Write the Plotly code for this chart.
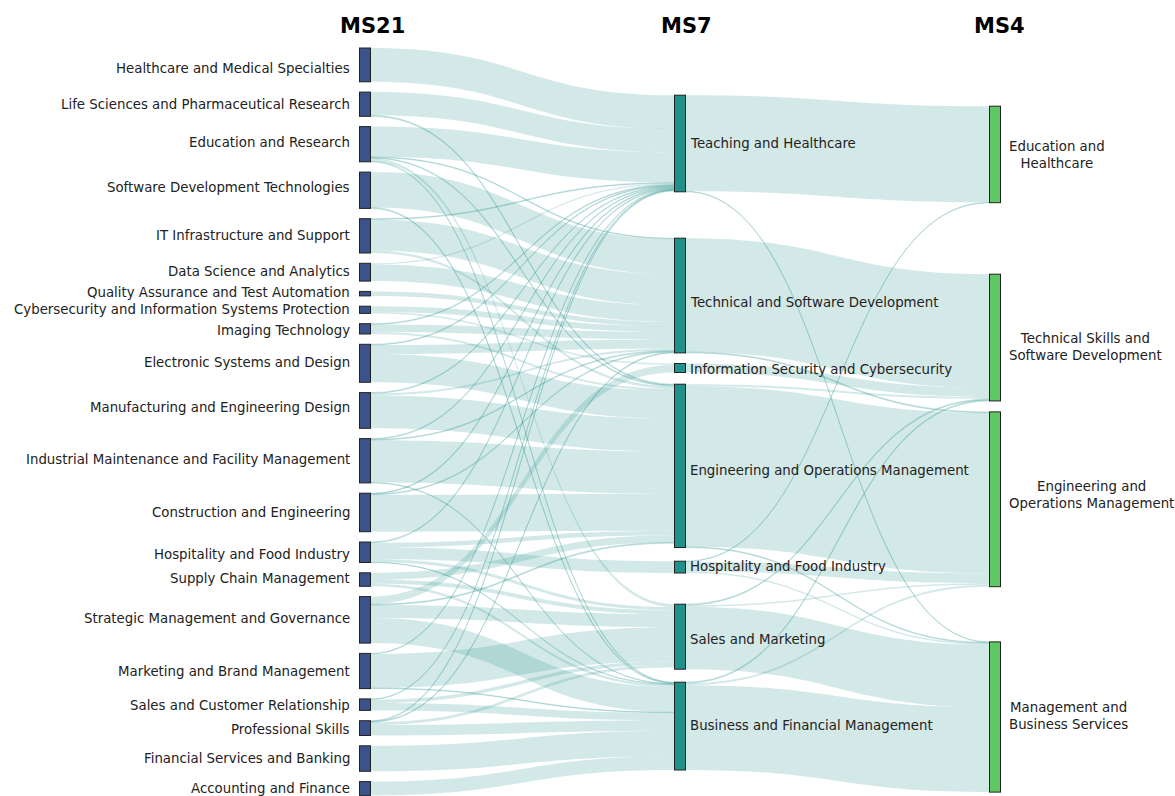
import plotly.graph_objects as go

W, H = 1175, 796

# ---------------- data ----------------
ms21 = [
    "Healthcare and Medical Specialties",
    "Life Sciences and Pharmaceutical Research",
    "Education and Research",
    "Software Development Technologies",
    "IT Infrastructure and Support",
    "Data Science and Analytics",
    "Quality Assurance and Test Automation",
    "Cybersecurity and Information Systems Protection",
    "Imaging Technology",
    "Electronic Systems and Design",
    "Manufacturing and Engineering Design",
    "Industrial Maintenance and Facility Management",
    "Construction and Engineering",
    "Hospitality and Food Industry",
    "Supply Chain Management",
    "Strategic Management and Governance",
    "Marketing and Brand Management",
    "Sales and Customer Relationship",
    "Professional Skills",
    "Financial Services and Banking",
    "Accounting and Finance",
]
ms7 = [
    "Teaching and Healthcare",
    "Technical and Software Development",
    "Information Security and Cybersecurity",
    "Engineering and Operations Management",
    "Hospitality and Food Industry",
    "Sales and Marketing",
    "Business and Financial Management",
]
ms4 = [
    "Education and<br>Healthcare",
    "Technical Skills and<br>Software Development",
    "Engineering and<br>Operations Management",
    "Management and<br>Business Services",
]
levels = ["MS21", "MS7", "MS4"]

# MS21 -> MS7 flows
s1_src = [0,
          1, 1,
          2, 2, 2, 2, 2,
          3, 3,
          4, 4, 4,
          5, 5,
          6,
          7, 7,
          8, 8, 8,
          9, 9, 9,
          10, 10, 10,
          11, 11, 11, 11,
          12, 12, 12,
          13, 13, 13, 13, 13,
          14, 14, 14,
          15, 15, 15, 15,
          16, 16, 16,
          17, 17, 17,
          18, 18, 18, 18,
          19,
          20]
s1_tgt = [0,
          0, 3,
          0, 1, 3, 5, 6,
          1, 6,
          0, 1, 3,
          0, 1,
          1,
          1, 2,
          0, 1, 3,
          0, 1, 3,
          0, 1, 3,
          0, 1, 3, 6,
          0, 1, 3,
          0, 3, 4, 5, 6,
          3, 5, 6,
          2, 3, 5, 6,
          0, 5, 6,
          0, 5, 6,
          0, 1, 5, 6,
          6,
          6]
s1_val = [33.8,
          23.2, 1.0,
          30.2, 0.7, 0.8, 3.0, 0.5,
          35.3, 1.0,
          0.8, 31.0, 2.5,
          1.2, 16.6,
          4.5,
          5.7, 1.5,
          0.8, 7.5, 2.0,
          0.8, 9.0, 28.2,
          0.8, 2.0, 32.9,
          0.8, 0.8, 42.2, 0.5,
          0.8, 0.8, 36.9,
          0.8, 4.5, 11.8, 3.0, 0.4,
          7.0, 4.0, 2.5,
          7.5, 1.0, 13.0, 25.0,
          0.6, 34.0, 0.6,
          0.5, 3.5, 7.5,
          0.8, 0.8, 2.7, 10.5,
          25.5,
          13.8]

# MS7 -> MS4 flows
s2_src = [0, 0, 1, 1, 2, 3, 3, 3, 4, 4, 4, 5, 5, 5, 6, 6, 6]
s2_tgt = [0, 3, 1, 2, 1, 1, 2, 3, 0, 2, 3, 1, 2, 3, 1, 2, 3]
s2_val = [96.0, 0.6, 113.7, 1.0, 9.0, 2.0, 160.5, 0.8, 0.5, 9.8, 1.5,
          1.0, 1.5, 62.5, 1.0, 2.0, 84.8]

# ---------------- layout settings (px) ----------------
col_x = [365, 680, 995]            # column centres
title_x = [372.5, 686, 999.5]
title_y = 25.8
thickness = 11
top21, gap21 = 48.0, 10.3
top7, gaps7 = 95.2, [46.4, 10.6, 11.7, 13.7, 31.2, 13.0]
top4, gaps4 = 106.2, [71.5, 11.0, 55.2]
# small vertical nudges of the labels relative to node centres (px)
nudge21 = [3.4, 0.8, -1.9, -3.0, -0.6, -1.2, -1.4, -0.5, 1.5, -1.0, -3.2,
           -1.5, -0.2, 2.0, -1.3, -1.6, 0.7, 0.6, 1.2, -0.2, -0.2]
nudge7 = [-0.2, 7.2, 1.0, 4.2, -1.1, 2.3, -1.1]
nudge4 = [0.3, 9.2, -4.3, -1.3]

col_colors = ["#3b528b", "#21918c", "#5ec962"]
link_color = "rgba(33,145,140,0.2)"
font_family = "DejaVu Sans, Verdana, sans-serif"
label_size = 13.33
label_color = "#222222"

# ---------------- derived node values ----------------
n21, n7, n4 = len(ms21), len(ms7), len(ms4)
out21 = [0.0] * n21
in7 = [0.0] * n7
out7 = [0.0] * n7
in4 = [0.0] * n4
for s, t, v in zip(s1_src, s1_tgt, s1_val):
    out21[s] += v
    in7[t] += v
for s, t, v in zip(s2_src, s2_tgt, s2_val):
    out7[s] += v
    in4[t] += v
val21 = out21
val7 = [max(a, b) for a, b in zip(in7, out7)]
val4 = in4

# node pad chosen so that one value unit equals one pixel
pad_param = (H - sum(val21)) / (n21 - 1)


def stack(values, top, gaps):
    centres = []
    y = top
    for i, v in enumerate(values):
        if i > 0:
            y += gaps[i - 1]
        centres.append(y + v / 2)
        y += v
    return centres


c21 = stack(val21, top21, [gap21] * (n21 - 1))
c7 = stack(val7, top7, gaps7)
c4 = stack(val4, top4, gaps4)

node_x = [col_x[0] / W] * n21 + [col_x[1] / W] * n7 + [col_x[2] / W] * n4
node_y = [min(c / H, 0.999) for c in c21 + c7 + c4]
node_colors = [col_colors[0]] * n21 + [col_colors[1]] * n7 + [col_colors[2]] * n4
names = ms21 + ms7 + [m.replace("<br>", " ") for m in ms4]

sources = list(s1_src) + [s + n21 for s in s2_src]
targets = [t + n21 for t in s1_tgt] + [t + n21 + n7 for t in s2_tgt]
values = list(s1_val) + list(s2_val)

fig = go.Figure(go.Sankey(
    arrangement="fixed",
    domain=dict(x=[0, 1], y=[0, 1]),
    node=dict(
        label=[""] * len(names),
        customdata=names,
        hovertemplate="%{customdata}<extra></extra>",
        x=node_x,
        y=node_y,
        pad=pad_param,
        thickness=thickness,
        color=node_colors,
        line=dict(color="#222222", width=1),
    ),
    link=dict(
        source=sources,
        target=targets,
        value=values,
        color=link_color,
    ),
))

lab_font = dict(family=font_family, size=label_size, color=label_color)
ann = []
for name, cy, dy in zip(ms21, c21, nudge21):
    ann.append(dict(x=(col_x[0] - thickness / 2 - 8) / W, y=1 - (cy + dy) / H,
                    xref="paper", yref="paper", xanchor="right", yanchor="middle",
                    text=name, showarrow=False, font=lab_font))
for name, cy, dy in zip(ms7, c7, nudge7):
    ann.append(dict(x=(col_x[1] + thickness / 2 + 3) / W, y=1 - (cy + dy) / H,
                    xref="paper", yref="paper", xanchor="left", yanchor="middle",
                    text=name, showarrow=False, font=lab_font))
for name, cy, dy in zip(ms4, c4, nudge4):
    ann.append(dict(x=(col_x[2] + thickness / 2 + 6) / W, y=1 - (cy + dy) / H,
                    xref="paper", yref="paper", xanchor="left", yanchor="middle",
                    align="center", text=name, showarrow=False, font=lab_font))
for lab, tx in zip(levels, title_x):
    ann.append(dict(x=tx / W, y=1 - title_y / H, xref="paper", yref="paper",
                    xanchor="center", yanchor="middle",
                    text="<b>" + lab + "</b>", showarrow=False,
                    font=dict(family=font_family, size=21, color="black")))

fig.update_layout(
    width=W, height=H,
    margin=dict(l=0, r=0, t=0, b=0),
    paper_bgcolor="white",
    plot_bgcolor="white",
    font=dict(family=font_family, size=label_size, color=label_color),
    annotations=ann,
    showlegend=False,
)

fig.write_html("out.html",
               config={"displayModeBar": False},
               post_script="document.body.style.margin='0px';"
                           "document.documentElement.style.overflow='hidden';")
